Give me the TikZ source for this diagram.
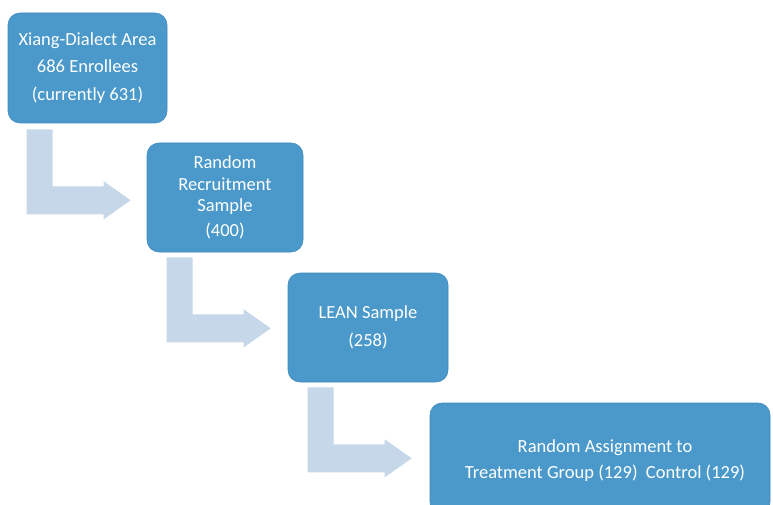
\documentclass[tikz,border=0pt]{standalone}
\usepackage{fontspec}
\setmainfont{Carlito}
\usetikzlibrary{calc}
\definecolor{boxblue}{RGB}{74,153,202}
\definecolor{boxedge}{RGB}{62,138,188}
\definecolor{arrowblue}{RGB}{197,215,232}
\tikzset{
  stagebox/.style={rectangle, rounded corners=12pt, fill=boxblue, draw=boxedge,
    line width=0.6pt, text=white, align=center, inner sep=0pt,
    font=\fontsize{18.5}{21.5}\selectfont},
  stagetext/.style={text=white, align=center, inner sep=0pt,
    font=\fontsize{18.5}{21.5}\selectfont},
  pics/bendarrow/.style={code={
    \fill[arrowblue] (0,0) -- (26,0) -- (26,57) -- (77,57) -- (77,52)
      -- (104,71) -- (77,90) -- (77,85) -- (0,85) -- cycle;}}
}
\begin{document}
\begin{tikzpicture}[x=1pt,y=-1pt]
  \useasboundingbox (0,0) rectangle (773,505);
  \clip (0,0) rectangle (773,505);
  % stages of the sample
  \node[stagebox, minimum width=159pt, minimum height=110pt] (area) at (87.5,68)
    {Xiang-Dialect Area\\[6pt]686 Enrollees\\[6pt](currently 631)};
  \node[stagebox, minimum width=156pt, minimum height=109pt] (recruit) at (225,197.5)
    {Random\\Recruitment\\Sample\\[3pt](400)};
  \node[stagebox, minimum width=160pt, minimum height=109pt] (lean) at (368,327.5)
    {LEAN Sample\\[7pt](258)};
  \node[stagebox, minimum width=340pt, minimum height=111pt] (assign) at (600,458.5) {};
  \node[stagetext] (assigntext) at ($(assign.center)+(5,2)$)
    {Random Assignment to\\[5pt]Treatment Group (129)\ \ Control (129)};
  % bent arrows between stages
  \pic at ($(area.south west)+(19,6)$) {bendarrow};
  \pic at ($(recruit.south west)+(20,5)$) {bendarrow};
  \pic at ($(lean.south west)+(20,5)$) {bendarrow};
\end{tikzpicture}
\end{document}
